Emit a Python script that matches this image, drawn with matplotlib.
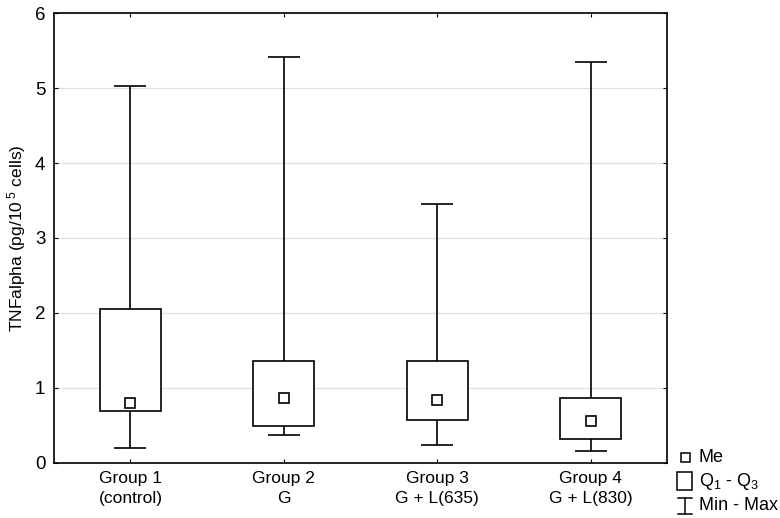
import matplotlib.pyplot as plt
from matplotlib.patches import Rectangle
from matplotlib.lines import Line2D

plt.rcParams['font.family'] = ['Liberation Sans', 'DejaVu Sans']
plt.rcParams['mathtext.fontset'] = 'custom'
plt.rcParams['mathtext.rm'] = 'Liberation Sans'
plt.rcParams['mathtext.it'] = 'Liberation Sans'

# data
groups = ['Group 1\n(control)', 'Group 2\nG', 'Group 3\nG + L(635)', 'Group 4\nG + L(830)']
medians = [0.80, 0.86, 0.84, 0.555]
q1 = [0.685, 0.49, 0.573, 0.31]
q3 = [2.055, 1.36, 1.356, 0.858]
mins = [0.196, 0.373, 0.231, 0.16]
maxs = [5.035, 5.414, 3.454, 5.352]

pos = list(range(1, len(groups) + 1))

fig = plt.figure(figsize=(7.8, 5.18), dpi=100)
ax = fig.add_axes([0.0688, 0.1068, 0.7868, 0.8675])

ax.bar(pos, [h - l for h, l in zip(q3, q1)], bottom=q1, width=0.4,
       facecolor='white', edgecolor='black', linewidth=1.2, zorder=3)
ax.vlines(pos, q3, maxs, color='black', linewidth=1.2, zorder=2)
ax.vlines(pos, mins, q1, color='black', linewidth=1.2, zorder=2)
ax.hlines(maxs, [p - 0.104 for p in pos], [p + 0.104 for p in pos],
          color='black', linewidth=1.2, zorder=2)
ax.hlines(mins, [p - 0.104 for p in pos], [p + 0.104 for p in pos],
          color='black', linewidth=1.2, zorder=2)
ax.plot(pos, medians, linestyle='none', marker='s', markersize=6.5,
        markerfacecolor='white', markeredgecolor='black', markeredgewidth=1.2, zorder=4)

ax.set_xlim(0.5, 4.5)
ax.set_ylim(0, 6)
ax.set_xticks(pos)
ax.set_xticklabels(groups, fontsize=12.5, linespacing=1.45)
ax.set_yticks(range(0, 7))
ax.tick_params(axis='y', direction='in', length=3, labelsize=13.5, left=True, right=True, pad=6)
ax.tick_params(axis='x', direction='in', length=3, top=True, bottom=True, pad=6)
ax.grid(axis='y', color='#e0e0e0', linewidth=0.9, zorder=0)
ax.set_axisbelow(True)
for s in ax.spines.values():
    s.set_linewidth(1.2)

ax.set_ylabel('TNFalpha (pg/10$^{\\,\\,5}$ cells)', fontsize=12.5, labelpad=5)

# legend drawn outside the axes
tf = fig.transFigure
fig.add_artist(Rectangle((681 / 780, 1 - 462 / 518), 9 / 780, 9 / 518, transform=tf,
                         facecolor='white', edgecolor='black', linewidth=1.1))
fig.text(699 / 780, 1 - 458 / 518, 'Me', fontsize=13, va='center')
fig.add_artist(Rectangle((677 / 780, 1 - 490 / 518), 15 / 780, 18 / 518, transform=tf,
                         facecolor='white', edgecolor='black', linewidth=1.1))
fig.text(699 / 780, 1 - 481 / 518, 'Q$_1$ - Q$_3$', fontsize=13, va='center')
fig.add_artist(Line2D([685 / 780, 685 / 780], [1 - 498 / 518, 1 - 514 / 518], transform=tf,
                      color='black', linewidth=1.1))
fig.add_artist(Line2D([678 / 780, 692 / 780], [1 - 498 / 518, 1 - 498 / 518], transform=tf,
                      color='black', linewidth=1.1))
fig.add_artist(Line2D([678 / 780, 692 / 780], [1 - 514 / 518, 1 - 514 / 518], transform=tf,
                      color='black', linewidth=1.1))
fig.text(699 / 780, 1 - 505 / 518, 'Min - Max', fontsize=13, va='center')

fig.savefig('out.png', dpi=100)
